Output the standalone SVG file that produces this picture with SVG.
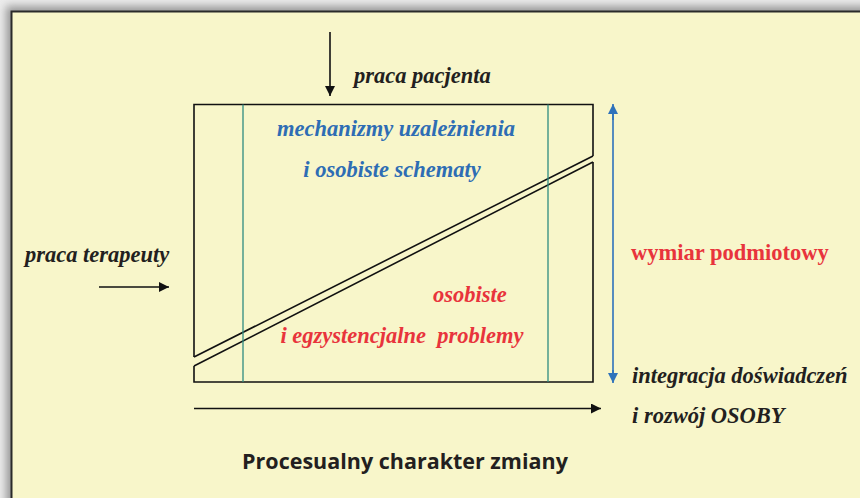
<svg xmlns="http://www.w3.org/2000/svg" width="860" height="498" viewBox="0 0 860 498">
<defs>
<filter id="sh" x="-5%" y="-5%" width="110%" height="110%"><feGaussianBlur stdDeviation="4"/></filter>
<marker id="ab" viewBox="0 0 10 10" refX="10" refY="5" markerWidth="10" markerHeight="10" markerUnits="userSpaceOnUse" orient="auto"><path d="M0,0 L10,5 L0,10 z" fill="#111"/></marker>
<marker id="abl" viewBox="0 0 10 10" refX="10" refY="5" markerWidth="10" markerHeight="10" markerUnits="userSpaceOnUse" orient="auto"><path d="M0,0 L10,5 L0,10 z" fill="#2e72bb"/></marker>
</defs>
<style>
.it{font-family:"Liberation Serif","Times New Roman",serif;font-style:italic;font-weight:bold;font-size:22.5px}
.dk{fill:#231f20}
.bl{fill:#2e6db4}
.rd{fill:#e8343c}
.ln{stroke:#111;stroke-width:1.6;fill:none}
.tl{stroke:#2e8b80;stroke-width:1.3;fill:none}
</style>
<rect x="0" y="0" width="860" height="498" fill="#ececec"/>
<rect x="6" y="6" width="870" height="510" fill="#999" filter="url(#sh)"/>
<rect x="11.5" y="11.5" width="860" height="500" fill="#f8f6ca" stroke="#2a2a2a" stroke-width="2"/>

<g id="main-box">
<path class="ln" d="M194,357 L194,104.5 L593,104.5 L593,156 M593,162 L593,382 L194,382 L194,366"/>
<path class="ln" d="M194,357 L593,156 M194,366 L593,162"/>
<line class="tl" x1="243" y1="104.5" x2="243" y2="382"/>
<line class="tl" x1="548" y1="104.5" x2="548" y2="382"/>
<text class="it bl" x="396" y="136" text-anchor="middle">mechanizmy uzależnienia</text>
<text class="it bl" x="392" y="177" text-anchor="middle">i osobiste schematy</text>
<text class="it rd" x="470" y="302" text-anchor="middle">osobiste</text>
<text class="it rd" x="402" y="343" text-anchor="middle" xml:space="preserve">i egzystencjalne  problemy</text>
</g>

<g id="praca-pacjenta">
<text class="it dk" x="354" y="83">praca pacjenta</text>
</g>
<g id="praca-terapeuty">
<text class="it dk" x="25" y="262">praca terapeuty</text>
</g>
<g id="wymiar">
<text x="631" y="260" font-family="'Liberation Serif','Times New Roman',serif" font-weight="bold" font-size="22.5" fill="#e8343c">wymiar podmiotowy</text>
</g>
<g id="integracja">
<text class="it dk" x="632" y="383">integracja doświadczeń</text>
<text class="it dk" x="632" y="423">i rozwój OSOBY</text>
</g>
<g id="title">
<text x="405" y="469" text-anchor="middle" font-family="'Open Sans','Liberation Sans',sans-serif" font-weight="bold" font-size="21.5" fill="#231f20">Procesualny charakter zmiany</text>
</g>

<g id="connectors">
<line class="ln" x1="330" y1="32" x2="330" y2="96" marker-end="url(#ab)"/>
<line class="ln" x1="99" y1="287" x2="169" y2="287" marker-end="url(#ab)"/>
<line class="ln" x1="194" y1="408.5" x2="601" y2="408.5" marker-end="url(#ab)"/>
<line x1="613" y1="114" x2="613" y2="373" stroke="#2e72bb" stroke-width="1.6"/>
<line x1="613" y1="120" x2="613" y2="104" stroke="#2e72bb" stroke-width="1.6" marker-end="url(#abl)"/>
<line x1="613" y1="370" x2="613" y2="383" stroke="#2e72bb" stroke-width="1.6" marker-end="url(#abl)"/>
</g>
</svg>
